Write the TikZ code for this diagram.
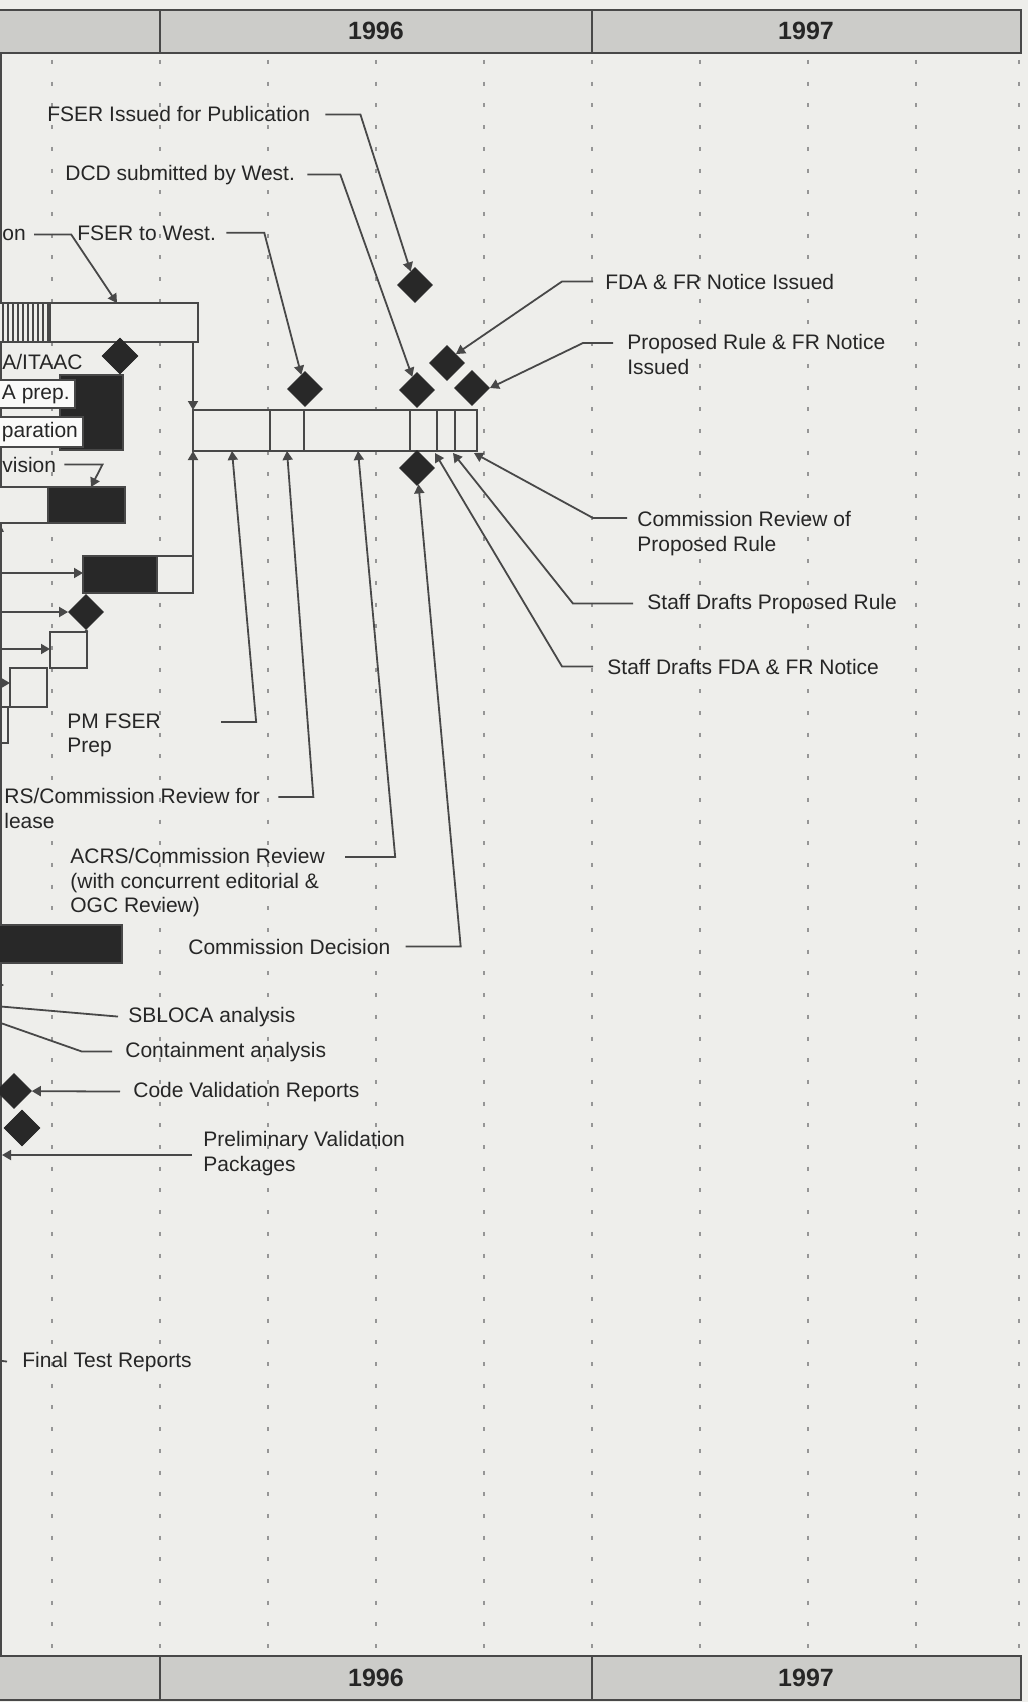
\documentclass[tikz,border=0pt]{standalone}
\usepackage{fontspec}
\setmainfont{Liberation Sans}
\usetikzlibrary{calc,arrows.meta,shapes.geometric}
\definecolor{paper}{RGB}{238,238,235}
\definecolor{hdrgray}{RGB}{204,204,201}
\definecolor{ink}{RGB}{38,38,38}
\definecolor{rule}{RGB}{72,72,72}
\definecolor{blk}{RGB}{40,40,40}
\definecolor{gridc}{RGB}{150,150,150}
\tikzset{
  lbl/.style={font=\fontsize{10.5}{12.25}\selectfont, text=ink, inner sep=0pt, align=left},
  yr/.style={font=\bfseries\fontsize{12.5}{14}\selectfont, text=ink},
  tag/.style={lbl, draw=rule, line width=1pt, fill=white!70!paper, inner sep=2.5pt},
  ms/.style={diamond, fill=blk, draw=blk, inner sep=0pt, minimum size=17.5pt},
  lead/.style={draw=rule, line width=0.9pt},
  tip/.style={-{Triangle[width=5pt,length=4.5pt]}},
  bar/.style={draw=rule, line width=1.3pt},
  gridline/.style={draw=gridc, line width=0.6pt, dash pattern=on 2pt off 8.85pt}
}

\begin{document}
\begin{tikzpicture}[x=0.5pt,y=-0.5pt]
			%%%%% START %%%%%
			\useasboundingbox (0,0) rectangle (1028,1702);
			\fill[paper] (0,0) rectangle (1028,1702);
			\clip (0,0) rectangle (1028,1702);
			
			% quarter grid
			\foreach \gx in {52,160,268,376,484,592,700,808,916,1019}
				\draw[gridline] (\gx,60) -- (\gx,1656);
			\draw[rule, line width=0.8pt] (1,53) -- (1,1656);
			
			% year bands
			\filldraw[fill=hdrgray, draw=rule, line width=1.2pt] (-5,10) rectangle (1021,53);
			\draw[rule, line width=1.2pt] (160,10) -- (160,53) (592,10) -- (592,53);
			\node[yr] (yTop96) at (376,31) {1996};
			\node[yr] (yTop97) at (806,31) {1997};
			\filldraw[fill=hdrgray, draw=rule, line width=1.2pt] (-5,1656) rectangle (1021,1700);
			\draw[rule, line width=1.2pt] (160,1656) -- (160,1700) (592,1656) -- (592,1700);
			\node[yr] (yBot96) at (376,1678) {1996};
			\node[yr] (yBot97) at (806,1678) {1997};
			
			% bars on the left
			\filldraw[bar, fill=paper] (-5,303) rectangle (198,342);
			\foreach \hx in {3,8,...,48}
				\draw[rule, line width=0.7pt] (\hx,303) -- (\hx,342);
			\draw[bar] (50,303) -- (50,342);
			\filldraw[bar, fill=blk] (60,375) rectangle (123,450);
			\filldraw[bar, fill=paper] (-5,487) rectangle (48,523);
			\filldraw[bar, fill=blk] (48,487) rectangle (125,523);
			\filldraw[bar, fill=blk] (83,556) rectangle (157,593);
			\filldraw[bar, fill=paper] (157,556) rectangle (193,593);
			\draw[bar] (50,632) rectangle (87,668);
			\draw[bar] (10,668) rectangle (47,707);
			\draw[bar] (-5,707) rectangle (8,743);
			\filldraw[bar, fill=blk] (-5,925) rectangle (122,963);
			
			% rulemaking bar
			\filldraw[bar, fill=paper] (193,410) rectangle (477,451);
			\foreach \dx in {270,304,410,437,455}
				\draw[bar] (\dx,410) -- (\dx,451);
			
			% ends of connectors
			\coordinate (b1Top) at (117,303);
			\coordinate (b1Drop) at (193,342);
			\coordinate (tlTopL) at (193,410);
			\coordinate (b3Top) at (193,556);
			\coordinate (tlBotL) at (193,451);
			\coordinate (b2Top) at (91,487);
			\coordinate (b3In) at (83,573);
			\coordinate (boxATop) at (87,632);
			\coordinate (boxAIn) at (50,649);
			\coordinate (boxBIn) at (10,683);
			\coordinate (tPM) at (232,451);
			\coordinate (tRel) at (287,451);
			\coordinate (tACRS) at (358,451);
			\coordinate (tSDF) at (435,453);
			\coordinate (tSDP) at (453,453);
			\coordinate (tCRP) at (474,453);
			\coordinate (eIn3) at (-5,573);
			\coordinate (eMid) at (-5,612);
			\coordinate (eBoxA) at (-5,649);
			\coordinate (eBoxB) at (-20,683);
			\coordinate (eSmall) at (-12,521);
			\coordinate (smallTip) at (4,532);
			\coordinate (eSide) at (-20,985);
			\coordinate (sideTip) at (4,985);
			\coordinate (sblEnd) at (-5,1006);
			\coordinate (contEnd) at (-5,1021);
			\coordinate (preEnd) at (2,1155);
			\coordinate (finEnd) at (-5,1360);
			
			% milestones
			\node[ms] (dPub) at (415,285) {};
			\node[ms] (dDCD) at (417,390) {};
			\node[ms] (dWest) at (305,389) {};
			\node[ms] (dFDA) at (447,363) {};
			\node[ms] (dProp) at (472,388) {};
			\node[ms] (dDec) at (417,468) {};
			\node[ms, minimum size=18pt] (dItaac) at (120,356) {};
			\node[ms] (dMid) at (86,612) {};
			\node[ms] (dCode) at (14,1091) {};
			\node[ms, minimum size=18pt] (dPrelim) at (22,1128) {};
			
			% labels
			\node[lbl, anchor=base west] (lPub) at (47,122) {FSER Issued for Publication};
			\node[lbl, anchor=base west] (lDCD) at (65,180) {DCD submitted by West.};
			\node[lbl, anchor=base west] (lWest) at (77,240) {FSER to West.};
			\node[lbl, anchor=base west] (lSub) at (2,240) {on};
			\node[lbl, anchor=base west] (lItaac) at (2,369) {A/ITAAC};
			\node[tag, anchor=west] (lPrep) at (-4,394) {A prep.};
			\node[tag, anchor=west] (lPara) at (-4,432) {paration};
			\node[lbl, anchor=base west] (lRev) at (2,472) {vision};
			\node[lbl, anchor=north west] (lPM) at (67,713) {PM FSER\\Prep};
			\node[lbl, anchor=north west] (lRel) at (4,788) {RS/Commission Review for\\lease};
			\node[lbl, anchor=north west] (lACRS) at (70,848) {ACRS/Commission Review\\(with concurrent editorial \&\\OGC Review)};
			\node[lbl, anchor=base west] (lDec) at (188,954) {Commission Decision};
			\node[lbl, anchor=base west] (lSBL) at (128,1022) {SBLOCA analysis};
			\node[lbl, anchor=base west] (lCont) at (125,1057) {Containment analysis};
			\node[lbl, anchor=base west] (lCode) at (133,1097) {Code Validation Reports};
			\node[lbl, anchor=north west] (lPre) at (203,1131) {Preliminary Validation\\Packages};
			\node[lbl, anchor=base west] (lFinal) at (22,1367) {Final Test Reports};
			\node[lbl, anchor=base west] (lFDA) at (605,289) {FDA \& FR Notice Issued};
			\node[lbl, anchor=north west] (lProp) at (627,334) {Proposed Rule \& FR Notice\\Issued};
			\node[lbl, anchor=north west] (lCRP) at (637,511) {Commission Review of\\Proposed Rule};
			\node[lbl, anchor=base west] (lSDP) at (647,609) {Staff Drafts Proposed Rule};
			\node[lbl, anchor=base west] (lSDF) at (607,674) {Staff Drafts FDA \& FR Notice};
			
			% leaders
			\draw[lead,tip] (lPub.east) ++(15,0) -- ++(35,0) -- (dPub);
			\draw[lead,tip] (lDCD.east) ++(12,0) -- ++(33,0) -- (dDCD);
			\draw[lead,tip] (lWest.east) ++(10,0) -- ++(38,0) -- (dWest);
			\draw[lead,tip] (lSub.east) ++(8,0) -- ++(37,0) -- (b1Top);
			\draw[lead,tip] (lRev.east) ++(8,0) -- ++(38,0) -- (b2Top);
			\draw[lead,tip] (lPM.north east) ++(60,9) -- ++(35,0) -- (tPM);
			\draw[lead,tip] (lRel.north east) ++(18,9) -- ++(35,0) -- (tRel);
			\draw[lead,tip] (lACRS.north east) ++(20,9) -- ++(50,0) -- (tACRS);
			\draw[lead,tip] (lDec.east) ++(15,0) -- ++(55,0) -- (dDec);
			\draw[lead] (lSBL.west) ++(-10,0) -- (sblEnd);
			\draw[lead] (lCont.west) ++(-13,0) -- ++(-30,0) -- (contEnd);
			\draw[lead,tip] (lCode.west) ++(-13,0) -- (dCode);
			\draw[lead,tip] (lPre.north west) ++(-11,24) -- (preEnd);
			\draw[lead] (lFinal.west) ++(-15,0) -- (finEnd);
			\draw[lead,tip] (lFDA.west) ++(-12,0) -- ++(-31,0) -- (dFDA.north east);
			\draw[lead,tip] (lProp.north west) ++(-14,9) -- ++(-30,0) -- (dProp.east);
			\draw[lead,tip] (lCRP.north west) ++(-10,7) -- ++(-34,0) -- (tCRP);
			\draw[lead,tip] (lSDP.west) ++(-14,0) -- ++(-60,0) -- (tSDP);
			\draw[lead,tip] (lSDF.west) ++(-14,0) -- ++(-31,0) -- (tSDF);
			
			% links between bars
			\draw[lead,tip] (b1Drop) -- (tlTopL);
			\draw[lead,tip] (b3Top) -- (tlBotL);
			\draw[lead,tip] (eIn3) -- (b3In);
			\draw[lead,tip] (eMid) -- (dMid);
			\draw[bar] (dMid.south) -- (boxATop);
			\draw[lead,tip] (eBoxA) -- (boxAIn);
			\draw[lead,tip] (eBoxB) -- (boxBIn);
			\draw[lead,tip] (eSmall) -- (smallTip);
			\draw[lead,tip] (eSide) -- (sideTip);
			
			%%%%% END %%%%%
\end{tikzpicture}
\end{document}
